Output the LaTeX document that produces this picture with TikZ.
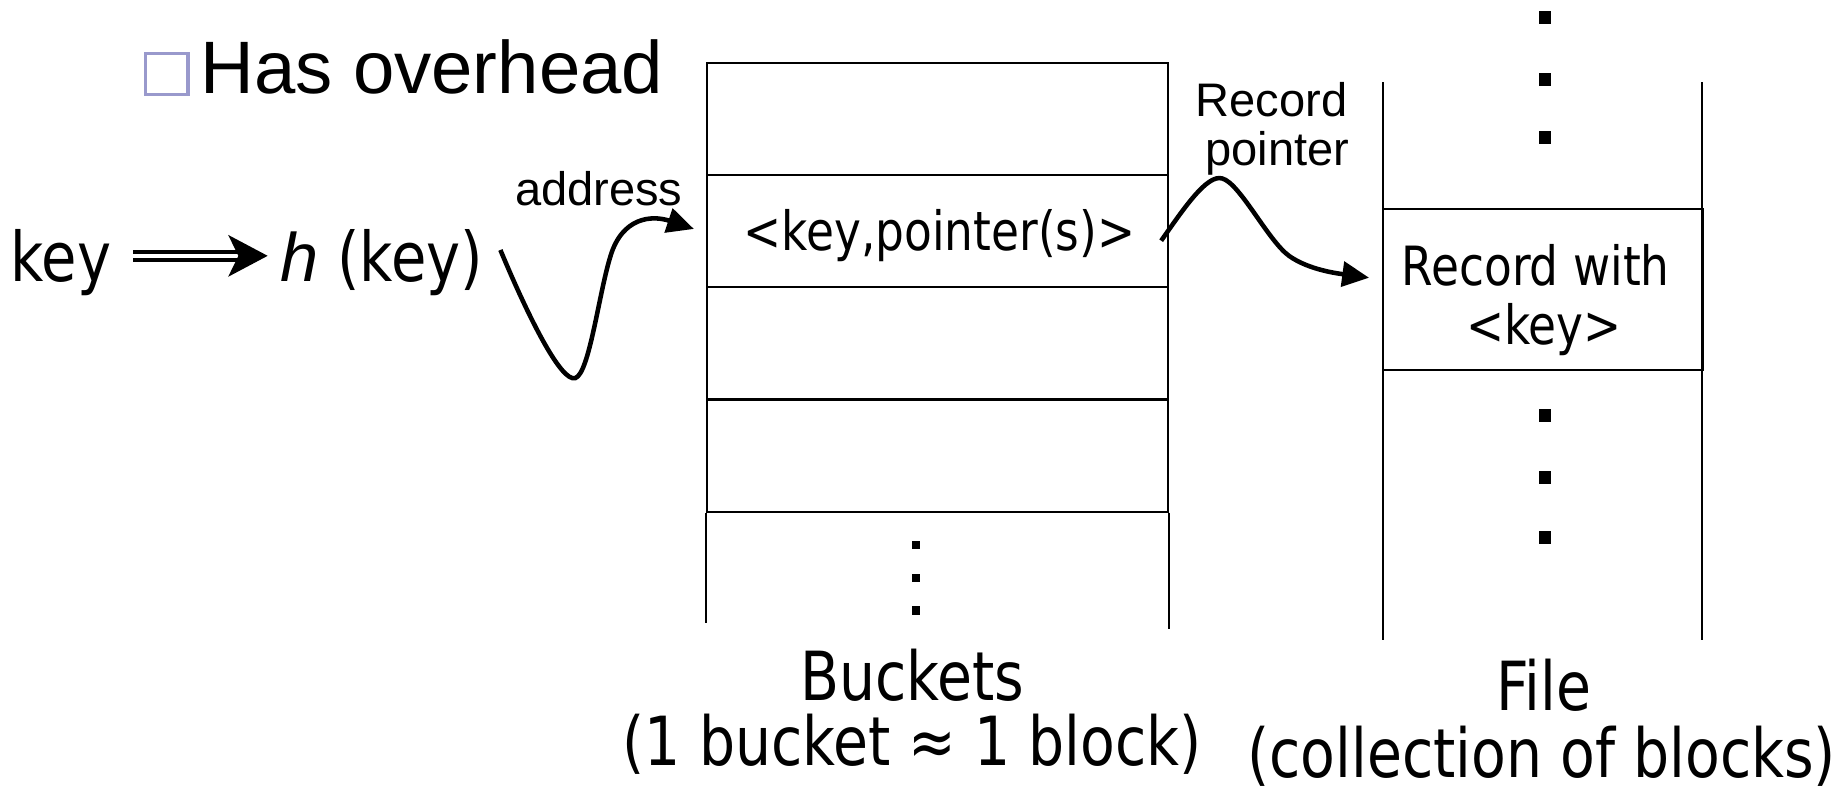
\documentclass[tikz,border=0pt]{standalone}
\usepackage{fontspec}
\setmainfont{Liberation Sans}
\newfontfamily\tah[FakeStretch=0.84]{DejaVu Sans}
\usetikzlibrary{arrows.meta}
\definecolor{lav}{RGB}{153,153,204}
\begin{document}
\begin{tikzpicture}[x=0.01cm,y=-0.01cm,
  cellbox/.style={draw, line width=0.5pt, inner sep=0pt, minimum width=3.93cm, minimum height=0.955cm},
  thinline/.style={line width=0.5pt},
  squig/.style={line width=1.1pt, -{Triangle[length=6.5pt,width=6pt]}},
  lbl/.style={inner sep=0pt, anchor=base},
  bigdot/.style={fill=black, inner sep=0pt, minimum width=0.1cm, minimum height=0.11cm},
  smalldot/.style={fill=black, inner sep=0pt, minimum size=0.07cm},
  fbig/.style={font=\fontsize{18}{20}\selectfont},
  fkey/.style={font=\fontsize{16.6}{19}\selectfont},
  fsmall/.style={font=\fontsize{11.4}{13}\selectfont},
  fcell/.style={font=\tah\fontsize{13.1}{15}\selectfont},
  fcap/.style={font=\tah\fontsize{16.4}{19}\selectfont},
]
\useasboundingbox (0,0) rectangle (1568,678);

% bullet line
\node[draw=lav, line width=0.8pt, minimum width=0.36cm, minimum height=0.35cm, inner sep=0pt] (bullet) at (142,63) {};
\node[lbl, anchor=base west, fbig] (has) at (170,80) {Has overhead};

% key => h(key)
\node[lbl, fkey] (key) at (52,240) {\tah key};
\node[lbl, anchor=base west, fkey] (hk) at (238,240) {\textit{h} {\tah (key)}};
\draw[line width=1pt, double distance=1pt, -{Stealth[length=9.5pt,width=10pt,inset=2.4pt]}]
  ([shift={(18,-6)}]key.east) -- ([shift={(-10,-6)}]hk.west);

% buckets
\node[cellbox] (b1) at (798.5,101.5) {};
\node[cellbox] (b2) at (798.5,197) {};
\node[cellbox] (b3) at (798.5,292.5) {};
\node[cellbox] (b4) at (798.5,388) {};
\node[lbl, fcell] (kp) at (800,213) {<key,pointer(s)>};
\draw[thinline] (b4.south west) -- ++(0,94);
\draw[thinline] (b4.south east) -- ++(0,99);
\node[smalldot] (bd1) at (780,464) {};
\node[smalldot] (bd2) at (780,492) {};
\node[smalldot] (bd3) at (780,520) {};
\node[lbl, fcap] (bk) at (777,597) {Buckets};
\node[lbl, fcap] (bk2) at (777,652) {(1 bucket ≈ 1 block)};

% address arrow
\node[lbl, fsmall] (addr) at (510,175) {address};
\draw[squig] ([shift={(14,-11)}]hk.east) .. controls (450,270) and (478,326) .. (490,322)
  .. controls (502,318) and (510,250) .. (520,218)
  .. controls (530,185) and (555,183) .. ([shift={(-10,-2)}]b2.west);

% file
\node[draw, line width=0.5pt, inner sep=0pt, minimum width=2.72cm, minimum height=1.37cm] (rec) at (1314,246.5) {};
\draw[thinline] (1178,70) -- (1178,545);
\draw[thinline] (1450,70) -- (1450,545);
\node[lbl, fcell] (rw1) at (1308,243) {Record with};
\node[lbl, fcell] (rw2) at (1315,293) {<key>};
\node[bigdot] (fd1) at (1316,15) {};
\node[bigdot] (fd2) at (1316,68) {};
\node[bigdot] (fd3) at (1316,117) {};
\node[bigdot] (fd4) at (1316,354) {};
\node[bigdot] (fd5) at (1316,407) {};
\node[bigdot] (fd6) at (1316,458) {};
\node[lbl, fcap] (fl) at (1315,605) {File};
\node[lbl, fcap] (fl2) at (1313,662) {(collection of blocks)};

% record pointer arrow
\node[lbl, fsmall] (rp1) at (1083,99) {Record};
\node[lbl, fsmall] (rp2) at (1088,141) {pointer};
\draw[squig] ([shift={(-7,8)}]b2.east) .. controls (1008,178) and (1028,148) .. (1041,152)
  .. controls (1056,156) and (1080,205) .. (1098,218)
  .. controls (1115,230) and (1140,233) .. ([shift={(-11,-10)}]rec.west);
\end{tikzpicture}
\end{document}
